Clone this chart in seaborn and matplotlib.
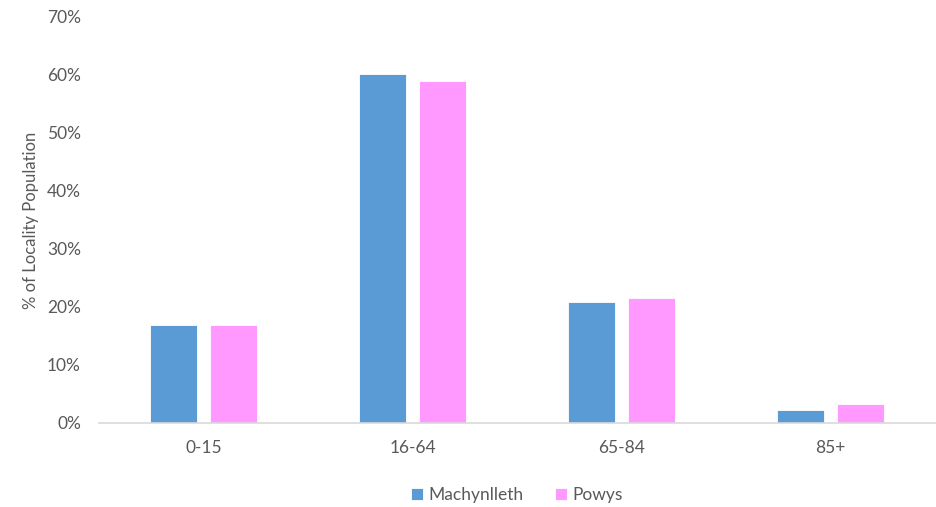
import matplotlib
matplotlib.use("Agg")
import matplotlib.pyplot as plt
import matplotlib.ticker as mticker
import pandas as pd
import seaborn as sns

# data (% of locality population)
age_groups = ["0-15", "16-64", "65-84", "85+"]
machynlleth = [16.9, 60.1, 20.9, 2.3]
powys = [16.9, 58.9, 21.6, 3.3]
series_names = ["Machynlleth", "Powys"]

df = pd.DataFrame({
    "age": age_groups * 2,
    "pct": machynlleth + powys,
    "area": [series_names[0]] * 4 + [series_names[1]] * 4,
})

sns.set_theme(style="white")
plt.rcParams["font.family"] = ["Lato", "DejaVu Sans"]
text_col = "#595959"

fig = plt.figure(figsize=(9.37, 5.07), dpi=100)
ax = fig.add_axes([0.1057, 0.1657, 0.8922, 0.8008])

sns.barplot(data=df, x="age", y="pct", hue="area",
            palette=["#5B9BD5", "#FF99FF"], saturation=1,
            width=0.574, gap=0.216,
            edgecolor="white", linewidth=0.6, ax=ax)

ax.set_ylim(0, 70)
ax.set_xlim(-0.5, 3.5)
ax.yaxis.set_major_locator(mticker.MultipleLocator(10))
ax.yaxis.set_major_formatter(mticker.FuncFormatter(lambda v, p: f"{v:.0f}%"))
for s in ["top", "right", "left"]:
    ax.spines[s].set_visible(False)
ax.spines["bottom"].set_color("#D9D9D9")
ax.spines["bottom"].set_linewidth(1.2)
ax.tick_params(axis="both", length=0, labelsize=12.5, labelcolor=text_col)
ax.tick_params(axis="y", pad=13)
ax.tick_params(axis="x", pad=12)
ax.set_xlabel("")
ax.set_ylabel("% of Locality Population", fontsize=12, color=text_col, labelpad=6)

ax.legend(loc="upper center", bbox_to_anchor=(0.5, -0.12), ncol=2,
          frameon=False, fontsize=12.5, labelcolor=text_col,
          handlelength=0.7, handleheight=0.7, handletextpad=0.3, columnspacing=1.8)

fig.savefig("out.png", dpi=100)
plt.close(fig)
